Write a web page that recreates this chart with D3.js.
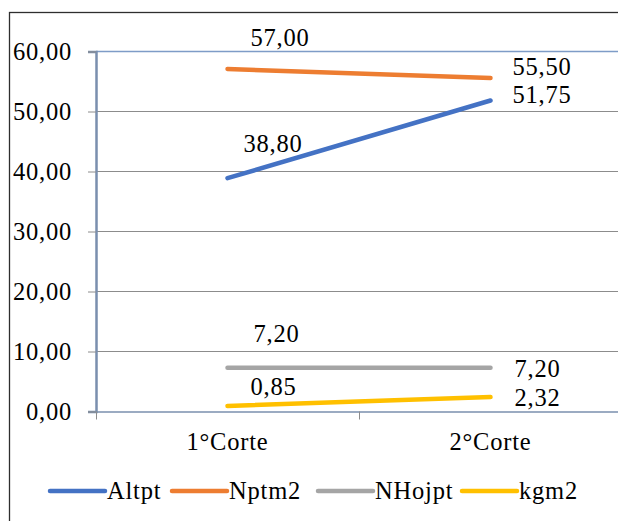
<!DOCTYPE html>
<html>
<head>
<meta charset="utf-8">
<script src="https://cdn.jsdelivr.net/npm/d3@7"></script>
<style>
	body { margin: 0; background: #fff; }
	svg { display: block; }
	text { font-family: "Liberation Serif", "Times New Roman", serif; fill: #000; letter-spacing: 0.8px; }
</style>
</head>
<body>
<div id="chart"></div>
<script>
// data
var categories = ["1°Corte", "2°Corte"];
var seriesNames = ["Altpt", "Nptm2", "NHojpt", "kgm2"];
var altpt = [38.80, 51.75];
var nptm2 = [57.00, 55.50];
var nhojpt = [7.20, 7.20];
var kgm2 = [0.85, 2.32];
var yTicks = [0, 10, 20, 30, 40, 50, 60];

var colors = ["#4472c4", "#ed7d31", "#a5a5a5", "#ffc000"];
// label offsets (px) from the point, first point / second point
var labelOffsets = [
	[[16, -26], [22, 2]],
	[[23, -23], [22, -3]],
	[[26, -26], [24, 9]],
	[[23, -11], [24, 9]]
];

var width = 618, height = 521;
var margin = {left: 96, top: 51, right: -4, bottom: 110};
var fontSize = "24.5px";

var svg = d3.select("#chart").append("svg")
	.attr("width", width)
	.attr("height", height);

// outer chart border
svg.append("rect")
	.attr("x", 9.5)
	.attr("y", 12.5)
	.attr("width", width)
	.attr("height", height)
	.attr("fill", "none")
	.attr("stroke", "#2e2e2e")
	.attr("stroke-width", 1.3);

var x = d3.scaleBand()
	.domain(categories)
	.range([margin.left, width - margin.right]);
var y = d3.scaleLinear()
	.domain([0, 60])
	.range([height - margin.bottom, margin.top]);

var fmt = function(v){ return d3.format(".2f")(v).replace(".", ","); };

// gridlines
svg.append("g").selectAll("line")
	.data(yTicks.filter(function(d){ return d > 0 && d < 60; }))
	.enter().append("line")
		.attr("x1", margin.left)
		.attr("x2", width)
		.attr("y1", function(d){ return Math.round(y(d)) + 0.5; })
		.attr("y2", function(d){ return Math.round(y(d)) + 0.5; })
		.attr("stroke", "#8c8c8c")
		.attr("stroke-width", 1);

// top border of plot area
svg.append("line")
	.attr("x1", margin.left).attr("x2", width)
	.attr("y1", Math.round(y(60)) + 0.5).attr("y2", Math.round(y(60)) + 0.5)
	.attr("stroke", "#7e9cc7").attr("stroke-width", 1.5);

// y axis
var yAxis = d3.axisLeft(y)
	.tickValues(yTicks)
	.tickSize(8)
	.tickPadding(16)
	.tickFormat(fmt);
var gy = svg.append("g")
	.attr("transform", "translate(" + margin.left + ",0.5)")
	.call(yAxis);
gy.select(".domain").attr("stroke", "#7a8fae").attr("stroke-width", 2.5);
gy.selectAll(".tick line").attr("stroke", "#8c8c8c");
gy.selectAll(".tick text")
	.style("font-size", fontSize)
	.style("font-family", "Liberation Serif")
	.attr("fill", "#000");

// x axis
var xAxis = d3.axisBottom(x)
	.tickSize(0)
	.tickPadding(21);
var gx = svg.append("g")
	.attr("transform", "translate(0," + (y(0) + 0.5) + ")")
	.call(xAxis);
gx.select(".domain").attr("stroke", "#7a8fae").attr("stroke-width", 1.5);
gx.selectAll(".tick text")
	.style("font-size", fontSize)
	.style("font-family", "Liberation Serif")
	.attr("fill", "#000");
// category boundary ticks
var bounds = [0, 1, 2].map(function(i){ return margin.left + i * x.bandwidth(); });
gx.selectAll(".btick").data(bounds).enter().append("line")
	.attr("class", "btick")
	.attr("x1", function(d){ return Math.round(d) + 0.5; })
	.attr("x2", function(d){ return Math.round(d) + 0.5; })
	.attr("y1", 0).attr("y2", 8)
	.attr("stroke", "#8c8c8c");

// series lines
var allSeries = [altpt, nptm2, nhojpt, kgm2];
var line = d3.line()
	.x(function(d, i){ return x(categories[i]) + x.bandwidth() / 2; })
	.y(function(d){ return y(d); });

allSeries.forEach(function(values, s){
	svg.append("path")
		.datum(values)
		.attr("d", line)
		.attr("fill", "none")
		.attr("stroke", colors[s])
		.attr("stroke-width", 4.5)
		.attr("stroke-linecap", "round");
});

// data labels
allSeries.forEach(function(values, s){
	svg.selectAll(".lbl" + s)
		.data(values).enter()
		.append("text")
			.attr("class", "lbl" + s)
			.attr("x", function(d, i){ return x(categories[i]) + x.bandwidth() / 2 + labelOffsets[s][i][0]; })
			.attr("y", function(d, i){ return y(d) + labelOffsets[s][i][1]; })
			.style("font-size", fontSize)
			.text(fmt);
});

// legend
var legendX = [50, 172, 318, 462];
var legend = svg.append("g").selectAll("g")
	.data(seriesNames).enter()
	.append("g")
		.attr("transform", function(d, i){ return "translate(" + legendX[i] + ",491)"; });
legend.append("line")
	.attr("x1", 0).attr("x2", 55)
	.attr("stroke", function(d, i){ return colors[i]; })
	.attr("stroke-width", 4.5)
	.attr("stroke-linecap", "round");
legend.append("text")
	.attr("x", 57)
	.attr("y", 8)
	.style("font-size", fontSize)
	.text(function(d){ return d; });
</script>
</body>
</html>
